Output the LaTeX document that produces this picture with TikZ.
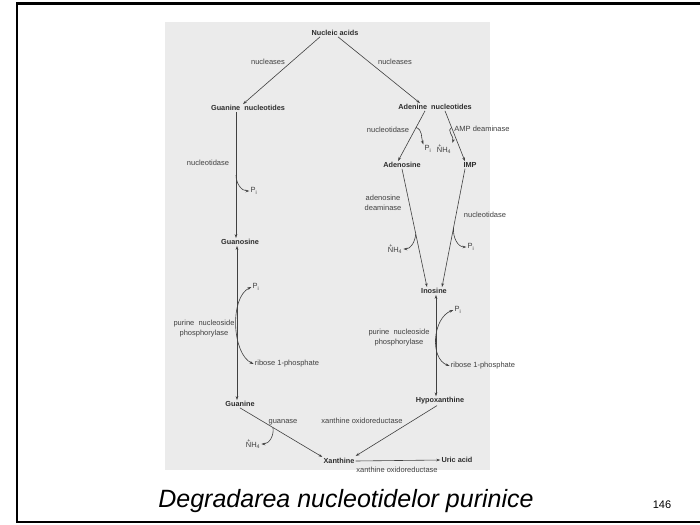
\documentclass[tikz,border=0pt]{standalone}
\usepackage{fontspec}
\setmainfont{Liberation Sans}
\usepackage{graphicx}
\usepackage{xcolor}
\usepackage{tikz}
\usetikzlibrary{positioning, arrows.meta, calc}

\definecolor{scan}{gray}{0.92}
\definecolor{ink}{gray}{0.25}
\newcommand{\Pin}{P\textsubscript{i}}
\newcommand{\ammon}{\makebox[0pt][l]{\raisebox{0.75em}{\kern0.2em\scalebox{0.7}{+}}}NH\textsubscript{4}}

\begin{document}
\begin{tikzpicture}[x=1pt, y=1pt,
    mol/.style={font=\fontsize{7.3}{8}\selectfont\bfseries, text=ink!70!black, inner sep=1pt},
    enz/.style={font=\fontsize{7.5}{10}\selectfont, text=ink, align=center, inner sep=1pt},
    arr/.style={-{Stealth[length=4pt,width=2.6pt]}, draw=ink, line width=0.6pt},
    rev/.style={{Stealth[length=4pt,width=2.6pt]}-{Stealth[length=4pt,width=2.6pt]}, draw=ink, line width=0.6pt}]
  \useasboundingbox (0,0) rectangle (700,-524);
  % slide frame and scanned page
  \fill[scan] (165,-22) rectangle (490,-470);
  \draw[line width=3pt] (16,-4) -- (702,-4);
  \draw[line width=2pt] (17,-4) -- (17,-522) -- (702,-522);

  % compounds
  \node[mol] (na) at (335,-33) {Nucleic acids};
  \node[mol] (gnt) at (248,-108) {Guanine\ \ nucleotides};
  \node[mol] (ant) at (435,-107) {Adenine\ \ nucleotides};
  \node[mol] (ado) at (402,-165) {Adenosine};
  \node[mol] (imp) at (470,-165) {IMP};
  \node[mol] (gsn) at (240,-242) {Guanosine};
  \node[mol] (ino) at (434,-291) {Inosine};
  \node[mol] (gua) at (240,-404) {Guanine};
  \node[mol] (hyp) at (440,-401) {Hypoxanthine};
  \node[mol] (xan) at (339,-461) {Xanthine};
  \node[mol] (uric) at (457,-460) {Uric acid};

  % enzymes
  \node[enz] (nucl1) at (268,-62) {nucleases};
  \node[enz] (nucl2) at (395,-62) {nucleases};
  \node[enz] (ntd1) at (208,-163) {nucleotidase};
  \node[enz] (ntd2) at (388,-130) {nucleotidase};
  \node[enz] (ampd) at (482,-129) {AMP deaminase};
  \node[enz] (adad) at (383,-203) {adenosine\\deaminase};
  \node[enz] (ntd3) at (485,-215) {nucleotidase};
  \node[enz] (pnp1) at (204,-329) {purine\ \ nucleoside\\phosphorylase};
  \node[enz] (pnp2) at (399,-338) {purine\ \ nucleoside\\phosphorylase};
  \node[enz] (gase) at (283,-422) {guanase};
  \node[enz] (xor1) at (362,-421) {xanthine oxidoreductase};
  \node[enz] (xor2) at (397,-470) {xanthine oxidoreductase};

  % side products
  \node[enz] (piGn) at (254,-191) {\Pin};
  \node[enz] (piAn) at (428,-149) {\Pin};
  \node[enz] (nhAn) at (444,-149) {\ammon};
  \node[enz] (nhAd) at (395,-249) {\ammon};
  \node[enz] (piImp) at (471,-247) {\Pin};
  \node[enz] (piGs) at (256,-287) {\Pin};
  \node[enz] (ribGs) at (287,-364) {ribose 1-phosphate};
  \node[enz] (piIn) at (458,-310) {\Pin};
  \node[enz] (ribIn) at (483,-366) {ribose 1-phosphate};
  \node[enz] (nhGu) at (253,-444) {\ammon};

  % pathway
  \draw[arr] ([xshift=-15pt]na.south) -- ([xshift=-5pt]gnt.north);
  \draw[arr] ([xshift=3pt]na.south) -- ([xshift=-15pt]ant.north);
  \draw[arr] ([xshift=-12pt]gnt.south) -- coordinate[pos=0.5] (bGn) ([xshift=-4pt]gsn.north);
  \draw[arr] ([xshift=-10pt]ant.south) -- coordinate[pos=0.33] (bAd) ([xshift=-4pt]ado.north);
  \draw[arr] ([xshift=10pt]ant.south) -- coordinate[pos=0.33] (bImp) ([xshift=-5pt]imp.north);
  \draw[arr] (ado.south) -- coordinate[pos=0.55] (bAi) ([xshift=-7pt]ino.north);
  \draw[arr] ([xshift=-5pt]imp.south) -- coordinate[pos=0.5] (bIi) ([xshift=8pt]ino.north);
  \draw[rev] ([xshift=-3pt]gsn.south) -- ([xshift=-3pt]gua.north);
  \draw[rev] ([xshift=2pt]ino.south) -- ([xshift=-4pt]hyp.north);
  \draw[arr] (gua.south) -- coordinate[pos=0.4] (bGu) ([yshift=4pt]xan.west);
  \draw[arr] ([xshift=-3pt]hyp.south) -- ([yshift=5pt]xan.east);
  \draw[arr] (xan.east) -- (uric.west);

  % branches
  \draw[arr] (bGn) to[out=-90, in=180] (piGn.west);
  \draw[arr] (bAd) to[out=-20, in=110] (piAn.north west);
  \draw[arr] (bImp) to[out=200, in=70] (nhAn.north east);
  \draw[arr] (bAi) to[out=-95, in=0] (nhAd.east);
  \draw[arr] (bIi) to[out=-95, in=180] (piImp.west);
  \draw[rev] (piGs.west) to[out=205, in=155, looseness=0.8] (ribGs.west);
  \draw[rev] (piIn.west) to[out=200, in=160] (ribIn.west);
  \draw[arr] (bGu) to[out=-80, in=0] (nhGu.east);

  % caption
  \node[font=\fontsize{25}{30}\selectfont\itshape] (cap) at (346,-501) {Degradarea nucleotidelor purinice};
  \node[font=\fontsize{11}{13}\selectfont] (pg) at (662,-505) {146};
\end{tikzpicture}
\end{document}
